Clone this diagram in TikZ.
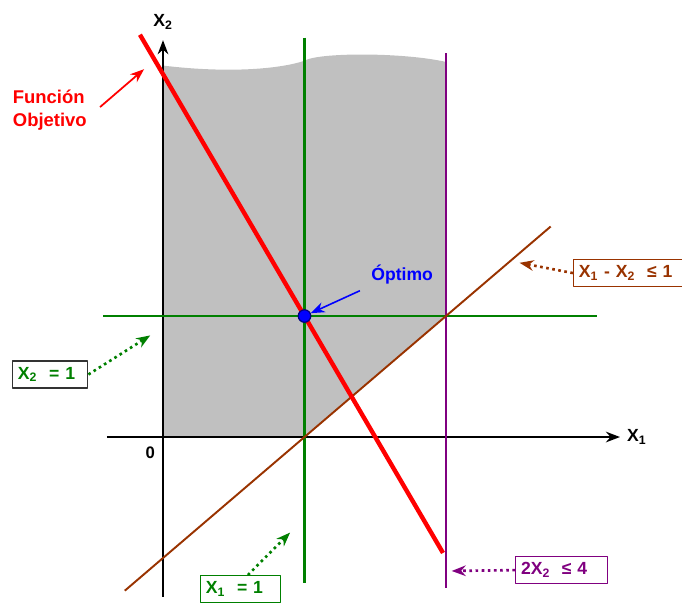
\documentclass[tikz,border=0pt]{standalone}
\usepackage{fontspec}
\setmainfont{Liberation Sans}
\usetikzlibrary{positioning,arrows.meta}
\definecolor{verde}{RGB}{0,128,0}
\definecolor{morado}{RGB}{128,0,128}
\definecolor{cafe}{RGB}{153,51,0}
\definecolor{gris}{RGB}{192,192,192}
\begin{document}
\begin{tikzpicture}[x=2.83cm, y=2.42cm, font=\bfseries\fontsize{10}{12}\selectfont, line join=round, >={Stealth[length=8pt,width=6pt]}]
	\tikzset{caja/.style={draw, fill=white, line width=0.8pt, inner xsep=3pt, inner ysep=3.5pt, align=left},
		punteada/.style={dotted, line width=1.5pt, ->}}
	
	\def \xmin{-1.152}
	\def \xmax{3.668}
	\def \ymin{-1.372}
	\def \ymax{3.612}
	\useasboundingbox (\xmin,\ymin) rectangle (\xmax,\ymax);
	
	\fill[gris] (0,0) -- (1,0) -- (2,1) -- (2,3.10) .. controls (1.7,3.18) and (1.1,3.18) .. (1,3.11) .. controls (0.85,3.05) and (0.5,3.0) .. (0,3.07) -- cycle;
	
	\coordinate (ejexa) at (-0.396,0);
	\coordinate (ejexb) at (3.23,0);
	\coordinate (ejeya) at (0,-1.32);
	\coordinate (ejeyb) at (0,3.28);
	\draw[->, line width=1.4pt] (ejexa) -- (ejexb) node[right] (lx1) {X\textsubscript{1}};
	\draw[->, line width=1.4pt] (ejeya) -- (ejeyb) node[above=2pt] (lx2) {X\textsubscript{2}};
	\node[font=\bfseries\fontsize{9.5}{11}\selectfont] (cero) at (-0.09,-0.13) {0};
	
	\coordinate (v1a) at (1,3.30);
	\coordinate (v1b) at (1,-1.21);
	\coordinate (h1a) at (-0.424,1);
	\coordinate (h1b) at (3.067,1);
	\coordinate (v2a) at (2,3.17);
	\coordinate (v2b) at (2,-1.25);
	\coordinate (fa) at (-0.163,3.325);
	\coordinate (fb) at (1.979,-0.958);
	\coordinate (ra) at (-0.27,-1.27);
	\coordinate (rb) at (2.74,1.74);
	\draw[verde, line width=1.4pt] (v1a) -- (v1b);
	\draw[verde, line width=1.4pt] (h1a) -- (h1b);
	\draw[morado, line width=1.4pt] (v2a) -- (v2b);
	\draw[cafe, line width=1.1pt] (ra) -- (rb);
	\draw[red, line width=2.5pt] (fa) -- (fb);
	
	\node[circle, fill=blue, draw=blue!50!black, line width=0.7pt, inner sep=0pt, minimum size=0.25cm] (punto) at (1,1) {};
	\node[blue] (lopt) at (1.69,1.34) {Óptimo};
	\draw[->, blue, line width=0.9pt] ([xshift=-3pt]lopt.south west) -- (punto);
	
	\node[red, align=left, font=\bfseries\fontsize{10.5}{13}\selectfont] (lfo) at (-0.80,2.70) {Función\\Objetivo};
	\coordinate (foa) at (-0.445,2.727);
	\coordinate (fob) at (-0.134,3.04);
	\draw[->, red, line width=1pt] (foa) -- (fob);
	
	\node[caja, draw=cafe, text=cafe, text width=2.4cm-6pt, anchor=west] (c1) at (2.897,1.355) {X\textsubscript{1} - X\textsubscript{2}\ \ ≤ 1};
	\coordinate (p1) at (2.52,1.44);
	\draw[punteada, cafe] (c1.west) -- (p1);
	
	\node[caja, draw=black!80, text=verde, text width=1.5cm-6pt, anchor=west] (c2) at (-1.067,0.517) {X\textsubscript{2}\ \ = 1};
	\coordinate (p2) at (-0.09,0.84);
	\draw[punteada, verde] (c2.east) -- (p2);
	
	\node[caja, draw=verde, text=verde, text width=1.6cm-6pt, anchor=north west] (c3) at (0.261,-1.14) {X\textsubscript{1}\ \ = 1};
	\coordinate (p3) at (0.898,-0.79);
	\draw[punteada, verde] ([xshift=0.96cm]c3.north west) -- (p3);
	
	\node[caja, draw=morado, text=morado, text width=1.84cm-6pt, anchor=west] (c4) at (2.488,-1.10) {2X\textsubscript{2}\ \ ≤ 4};
	\coordinate (p4) at (2.04,-1.107);
	\draw[punteada, morado] (c4.west) -- (p4);
\end{tikzpicture}
\end{document}
